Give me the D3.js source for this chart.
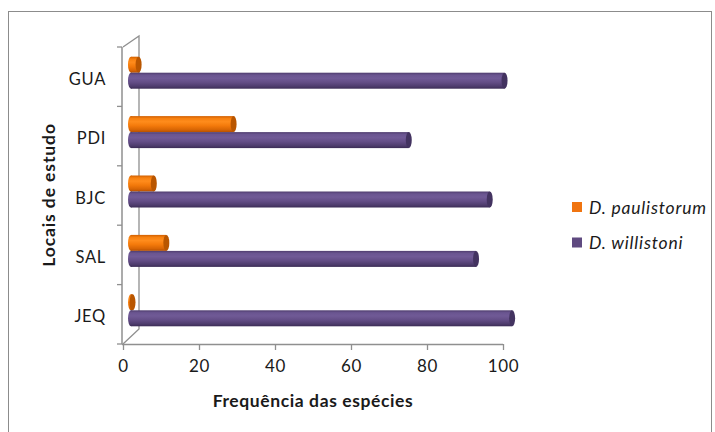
<!DOCTYPE html>
<html><head><meta charset="utf-8">
<script src="https://cdn.jsdelivr.net/npm/d3@7"></script>
<style>
html,body{margin:0;padding:0;background:#fff;}
svg{display:block;font-family:Lato,"Open Sans",sans-serif;}
</style></head>
<body><svg id="c" width="715" height="432"></svg>
<script>
const categories = ["GUA","PDI","BJC","SAL","JEQ"];
const seriesNames = ["D. paulistorum","D. willistoni"];
const paulistorum = [2, 27, 6, 9.3, 0.4];
const willistoni  = [98.3, 73.1, 94.4, 90.8, 100.3];
const xTicks = [0,20,40,60,80,100];
const xTitle = "Frequência das espécies";
const yTitle = "Locais de estudo";

const svg = d3.select("#c");
// chart border
svg.append("rect").attr("x",8.5).attr("y",11.5).attr("width",703).attr("height",440)
  .attr("fill","#fff").attr("stroke","#8c8c8c").attr("stroke-width",1);

const x = d3.scaleLinear().domain([0,100]).range([123,503]);
const y = d3.scaleBand().domain(categories).range([47,344]);
const depthX = 16, depthY = -13;
const barDX = 8, barDY = -4;
const barH = 16;
const axisColor = "#8f8f8f";
const txt = "#1a1a1a";

const g = svg.append("g");
const x0 = x(0), yTop = y.range()[0], yBot = y.range()[1];
g.append("path").attr("fill","none").attr("stroke",axisColor).attr("stroke-width",1.3)
  .attr("d",`M${x0},${yTop} L${x0+depthX},${yTop+depthY+2} L${x0+depthX},${yBot+depthY-2} L${x0},${yBot}`);
g.append("line").attr("x1",x0-1).attr("x2",x0-1).attr("y1",yTop).attr("y2",yBot)
  .attr("stroke",axisColor).attr("stroke-width",1.5);
const bounds = categories.map(c=>y(c)).concat([yBot]);
g.selectAll(".lt").data(bounds).join("line")
  .attr("x1",x0-6).attr("x2",x0-1).attr("y1",d=>d).attr("y2",d=>d)
  .attr("stroke",axisColor).attr("stroke-width",1.3);

const xAxis = d3.axisBottom(x).tickValues(xTicks).tickSize(6).tickPadding(10).tickFormat(d3.format("d"));
const ax = svg.append("g").attr("transform",`translate(0,${yBot})`).call(xAxis);
ax.select(".domain").attr("stroke",axisColor).attr("stroke-width",1.5).attr("d",`M${x0-1},0.5H${x(100)}`);
ax.selectAll(".tick line").attr("stroke",axisColor).attr("stroke-width",1.3);
ax.selectAll(".tick text").attr("font-size",17).attr("letter-spacing",0.6).attr("fill",txt).attr("font-family","Lato,sans-serif");

svg.selectAll(".cl").data(categories).join("text")
  .attr("x",106).attr("y",d=>y(d)+y.bandwidth()/2+8)
  .attr("text-anchor","end").attr("font-size",16.5).attr("fill",txt)
  .attr("letter-spacing",0.7).text(d=>d);

const defs = svg.append("defs");
function grad(id, stops){
  const lg = defs.append("linearGradient").attr("id",id).attr("x1",0).attr("x2",0).attr("y1",0).attr("y2",1);
  stops.forEach(s=>lg.append("stop").attr("offset",s[0]).attr("stop-color",s[1]));
}
grad("gPurple",[[0,"#4f3d6e"],[0.15,"#6a5590"],[0.35,"#705a96"],[0.6,"#634d86"],[0.85,"#4e3c6d"],[1,"#3b2c55"]]);
grad("gOrange",[[0,"#d05f00"],[0.15,"#f7800f"],[0.35,"#ff8c1c"],[0.6,"#f47a0b"],[0.85,"#d86504"],[1,"#b65000"]]);
const capColor = ["#b95600","#433360"];
const fills = ["url(#gOrange)","url(#gPurple)"];

const series = [paulistorum, willistoni];
const rx = 3;
series.forEach((vals, si)=>{
  const sg = svg.append("g");
  vals.forEach((v, i)=>{
    const cy = y(categories[i]) + y.bandwidth()/2 + barDY;
    const top = si===0 ? cy - barH : cy;
    const xs = x(0)+barDX, xe = x(v)+barDX;
    const mid = top + barH/2;
    sg.append("ellipse").attr("cx",xs).attr("cy",mid).attr("rx",rx).attr("ry",barH/2).attr("fill",fills[si]);
    sg.append("rect").attr("x",xs).attr("y",top).attr("width",Math.max(0,xe-xs)).attr("height",barH).attr("fill",fills[si]);
    sg.append("ellipse").attr("cx",xe).attr("cy",mid).attr("rx",rx).attr("ry",barH/2).attr("fill",capColor[si]);
  });
});

svg.append("text").attr("x",313).attr("y",407).attr("text-anchor","middle")
  .attr("font-size",17.5).attr("letter-spacing",0.6).attr("font-weight","bold").attr("fill",txt).text(xTitle);
svg.append("text").attr("transform","translate(55,195) rotate(-90)").attr("text-anchor","middle")
  .attr("font-size",17.5).attr("letter-spacing",0.9).attr("font-weight","bold").attr("fill",txt).text(yTitle);

const legColors = ["#f07410","#5f4a80"];
const leg = svg.append("g");
seriesNames.forEach((n,i)=>{
  const ly = 202 + i*35.5;
  leg.append("rect").attr("x",572).attr("y",ly).attr("width",10).attr("height",10).attr("fill",legColors[i]);
  leg.append("text").attr("x",589).attr("y",ly+11.5).attr("font-size",17.5).attr("letter-spacing",0.8).attr("font-style","italic")
    .attr("fill",txt).text(n);
});
</script></body></html>
